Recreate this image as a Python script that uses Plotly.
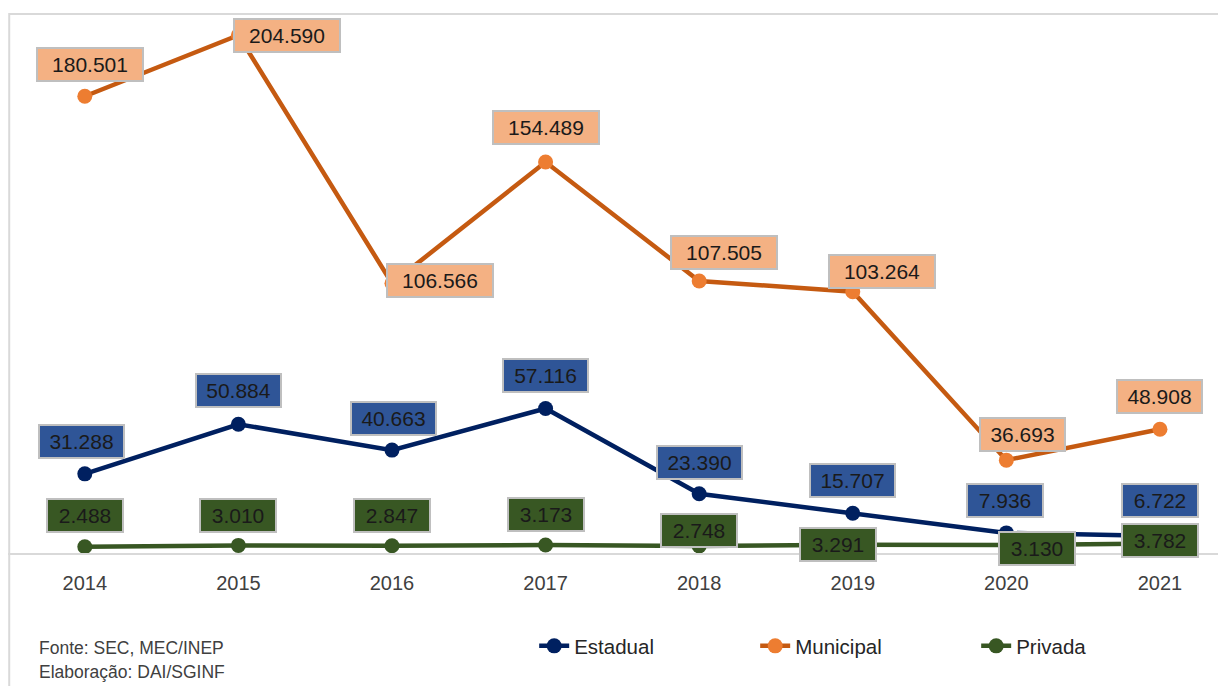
import plotly.graph_objects as go

# ---- data ----
years = ["2014", "2015", "2016", "2017", "2018", "2019", "2020", "2021"]
estadual = [31288, 50884, 40663, 57116, 23390, 15707, 7936, 6722]
municipal = [180501, 204590, 106566, 154489, 107505, 103264, 36693, 48908]
privada = [2488, 3010, 2847, 3173, 2748, 3291, 3130, 3782]
series_names = ["Estadual", "Municipal", "Privada"]

# ---- styles ----
FONT = "Liberation Sans, Arial, sans-serif"
line_colors = {"Estadual": "#002060", "Municipal": "#C55A11", "Privada": "#385723"}
marker_colors = {"Estadual": "#002060", "Municipal": "#ED7D31", "Privada": "#385723"}
label_bg = {"Estadual": "#2F5597", "Municipal": "#F4B183", "Privada": "#385723"}
# label offsets in pixels (xshift, yshift) relative to each point
label_offsets = {
    "Estadual": [(-3, 32), (0, 34), (2, 32), (0, 33), (0, 31), (0, 33), (-1, 32), (0, 35)],
    "Municipal": [(5, 32), (49, 0), (48, 3), (0, 35), (25, 28), (29, 20), (16, 26), (0, 33)],
    "Privada": [(0, 31), (0, 30), (0, 30), (0, 30), (0, 16), (-15, 0), (31, -3), (0, 3)],
}
box_width = {7: 98, 6: 77, 5: 68}

def fmt(v):
    return f"{v:,}".replace(",", ".")

data = {"Estadual": estadual, "Municipal": municipal, "Privada": privada}

fig = go.Figure()
for name in series_names:
    fig.add_trace(go.Scatter(
        x=years, y=data[name], name=name, mode="lines+markers",
        line=dict(color=line_colors[name], width=4.5),
        marker=dict(color=marker_colors[name], size=15),
        cliponaxis=False,
    ))

annotations = []
for name in series_names:
    for i, (v, (dx, dy)) in enumerate(zip(data[name], label_offsets[name])):
        txt = fmt(v)
        annotations.append(dict(
            x=i, y=v, xref="x", yref="y", text=txt, showarrow=False,
            xshift=dx, yshift=dy, xanchor="center", yanchor="middle",
            font=dict(family=FONT, size=21, color="#1a1a1a"),
            bgcolor=label_bg[name], bordercolor="#BFBFBF", borderwidth=2,
            borderpad=3, width=box_width.get(len(txt), 80), height=25, align="center",
        ))

# footnote (figure is offset 8px by the page body margin)
H = 539.0
annotations.append(dict(x=0.0238, y=(545 - 640) / H, xref="paper", yref="paper", xanchor="left",
                        yanchor="middle", showarrow=False, text="Fonte: SEC, MEC/INEP",
                        font=dict(family=FONT, size=17.5, color="#404040")))
annotations.append(dict(x=0.0238, y=(545 - 664) / H, xref="paper", yref="paper", xanchor="left",
                        yanchor="middle", showarrow=False, text="Elaboração: DAI/SGINF",
                        font=dict(family=FONT, size=17.5, color="#404040")))

fig.update_layout(
    width=1218, height=678,
    margin=dict(l=0, r=0, t=6, b=133),
    paper_bgcolor="white", plot_bgcolor="white",
    font=dict(family=FONT, color="#404040"),
    xaxis=dict(type="category", range=[-0.5, 7.43], showgrid=False,
               showline=True, linecolor="#D9D9D9", linewidth=2, ticks="",
               tickfont=dict(family=FONT, size=20, color="#404040"), ticklabelstandoff=11),
    yaxis=dict(range=[0, 213000], visible=False, showgrid=False),
    annotations=annotations,
    legend=dict(orientation="h", yanchor="middle", xanchor="left",
                x=0.432, y=(545 - 638) / H, entrywidth=176, entrywidthmode="pixels",
                font=dict(family=FONT, size=20.5, color="#262626"),
                bgcolor="rgba(0,0,0,0)"),
    shapes=[dict(type="rect", xref="paper", yref="paper", x0=0.001, x1=1.05, y0=-0.3, y1=1,
                 line=dict(color="#D9D9D9", width=2), fillcolor="rgba(0,0,0,0)", layer="below")],
)

fig.write_html("out.html")
